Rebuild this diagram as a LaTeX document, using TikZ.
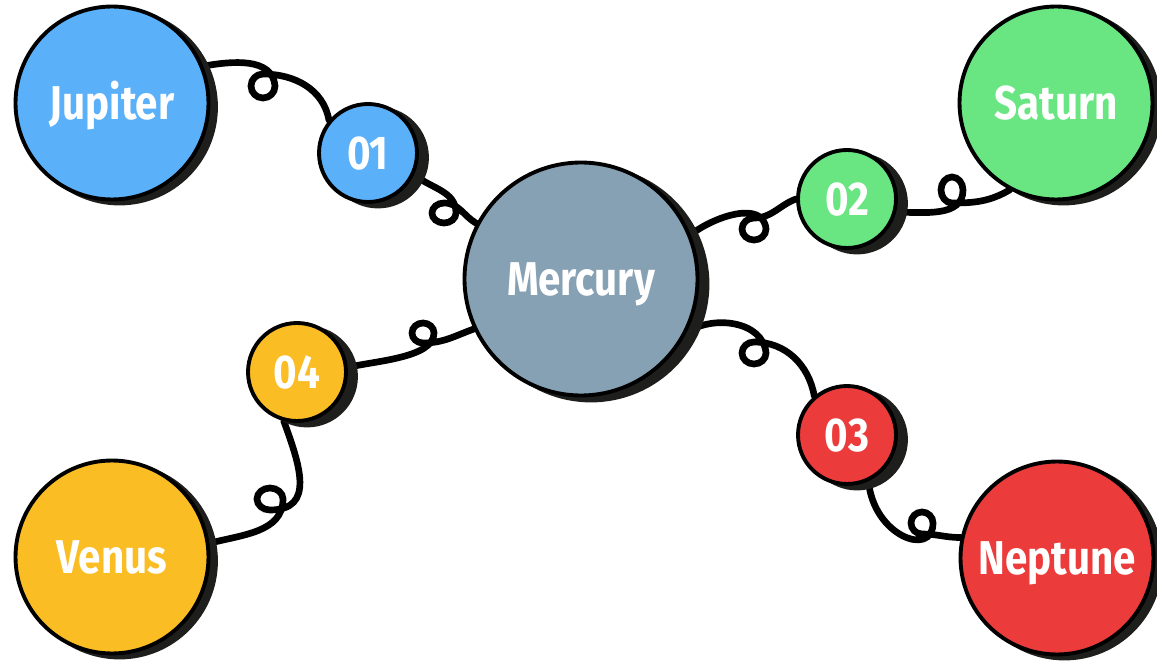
\documentclass[tikz,border=0pt]{standalone}
\usepackage{fontspec}
\newfontfamily\labelfont[FakeStretch=0.85]{Fira Sans}
\usetikzlibrary{shadows,backgrounds}
\definecolor{jupc}{HTML}{5BB0FA}
\definecolor{satc}{HTML}{69E682}
\definecolor{venc}{HTML}{FBBD24}
\definecolor{nepc}{HTML}{EC3B3B}
\definecolor{merc}{HTML}{86A0B4}
\definecolor{shadowc}{HTML}{1E1E1C}
\begin{document}
\begin{tikzpicture}[x=0.02cm,y=0.02cm,
  planet/.style={circle, draw=black, line width=2.2pt, fill=#1, text=white, inner sep=0pt,
    font=\labelfont\bfseries\fontsize{27}{30}\selectfont, text height=18.6pt, text depth=0pt},
  bigp/.style={minimum size=3.86cm,
    general shadow={fill=shadowc, draw=shadowc, line width=2.2pt, shadow xshift=0.15cm, shadow yshift=-0.08cm}},
  midp/.style={minimum size=4.66cm,
    general shadow={fill=shadowc, draw=shadowc, line width=2.2pt, shadow xshift=0.2cm, shadow yshift=-0.1cm}},
  smallp/.style={minimum size=1.96cm,
    general shadow={fill=shadowc, draw=shadowc, line width=2.2pt, shadow xshift=0.2cm, shadow yshift=-0.09cm}},
  link/.style={line width=3.8pt, line cap=round, draw=black}
]
\useasboundingbox (0,0) rectangle (1157,-662);

\node[planet=jupc, bigp] (jup) at (112,-103) {Jupiter};
\node[planet=satc, bigp] (sat) at (1056,-103) {Saturn};
\node[planet=venc, bigp] (ven) at (112,-557) {Venus};
\node[planet=nepc, bigp] (nep) at (1057,-558) {Neptune};
\node[planet=merc, midp] (mer) at (581,-279) {Mercury};
\node[planet=jupc, smallp] (n01) at (368,-153) {01};
\node[planet=satc, smallp] (n02) at (847,-199) {02};
\node[planet=nepc, smallp] (n03) at (847,-435) {03};
\node[planet=venc, smallp] (n04) at (297,-372) {04};

\begin{scope}[on background layer]
\draw[link] (jup.22) to[out=10,in=95] (275,-86)
  arc[start angle=0,end angle=-270,x radius=12,y radius=12]
  to[out=0,in=100] (n01.140);
\draw[link] (n01.-25) to[out=-40,in=90] (456,-213)
  arc[start angle=0,end angle=-270,x radius=12,y radius=10]
  to[out=0,in=150] (mer.152);
\draw[link] (mer.22) to[out=38,in=95] (766,-229)
  arc[start angle=0,end angle=-270,x radius=12,y radius=11]
  to[out=0,in=200] (n02.180);
\draw[link] (n02.-15) to[out=0,in=-90] (963,-190)
  arc[start angle=0,end angle=270,x radius=11,y radius=13]
  to[out=0,in=210] (sat.242);
\draw[link] (mer.-27) to[out=35,in=95] (766,-353)
  arc[start angle=0,end angle=-270,x radius=12,y radius=11]
  to[out=0,in=100] (n03.130);
\draw[link] (n03.-65) .. controls +(-85:55) and +(-90:35) .. (933,-523)
  arc[start angle=0,end angle=270,x radius=11,y radius=11]
  to[out=0,in=180] (nep.168);
\draw[link] (mer.205) to[out=200,in=0] (423,-343)
  arc[start angle=-90,end angle=-360,x radius=11,y radius=10]
  to[out=-90,in=15,looseness=0.7] (n04.5);
\draw[link] (n04.-105) to[out=-70,in=0,looseness=1.3] (270,-510)
  arc[start angle=-90,end angle=-360,x radius=13,y radius=11]
  to[out=-90,in=15] (ven.8);
\end{scope}
\end{tikzpicture}
\end{document}
